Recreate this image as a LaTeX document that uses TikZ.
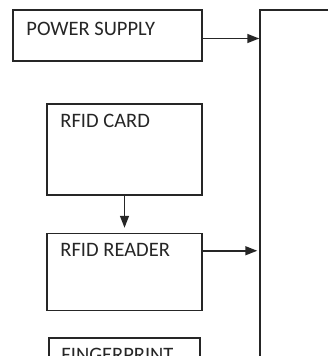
\documentclass[tikz,border=0pt]{standalone}
\usepackage{fontspec}
\setmainfont{Carlito}
\usepackage{tikz}
\usetikzlibrary{arrows.meta, positioning, calc}
\definecolor{boxline}{HTML}{262626}

\begin{document}
\begin{tikzpicture}[
  x=1pt, y=-1pt,
  block/.style={rectangle, draw=boxline, line width=1.5pt,
    fill=white, inner sep=0pt},
  lbl/.style={anchor=base west, inner sep=0pt,
    font=\fontsize{20.5}{24}\selectfont, text=boxline},
  arr/.style={-{Triangle[length=12pt,width=9pt]}, line width=1.5pt, draw=boxline}
]
  \useasboundingbox (0,0) rectangle (328,356);
  \clip (0,0) rectangle (328,356);

  % blocks
  \node[block, minimum width=189pt, minimum height=51pt] (power) at (107.5,35.5) {};
  \node[block, minimum width=155pt, minimum height=91pt] (card) at (124.5,149.5) {};
  \node[block, minimum width=155pt, minimum height=77pt, below=37pt of card] (reader) {};
  \node[block, minimum width=151pt, minimum height=91pt] (finger) at (124.5,383.5) {};
  \node[block, minimum width=160pt, minimum height=520pt] (mcu) at (340,270) {};

  % texts
  \node[lbl] (powertxt) at ($(power.north west)+(14,26)$) {POWER SUPPLY};
  \node[lbl] (cardtxt) at ($(card.north west)+(14,24)$) {RFID CARD};
  \node[lbl] (readertxt) at ($(reader.north west)+(14,24)$) {RFID READER};
  \node[lbl] (fingertxt) at ($(finger.north west)+(13,24)$) {FINGERPRINT};

  % connections
  \coordinate (pwout) at ([yshift=-3pt]power.east);
  \coordinate (rdout) at ([yshift=-18pt]reader.north east);
  \draw[arr] (pwout) -- (pwout -| mcu.west);
  \draw[arr, shorten >=5pt] (card.south) -- (reader.north);
  \draw[arr, shorten >=2pt] (rdout) -- (rdout -| mcu.west);
\end{tikzpicture}
\end{document}
